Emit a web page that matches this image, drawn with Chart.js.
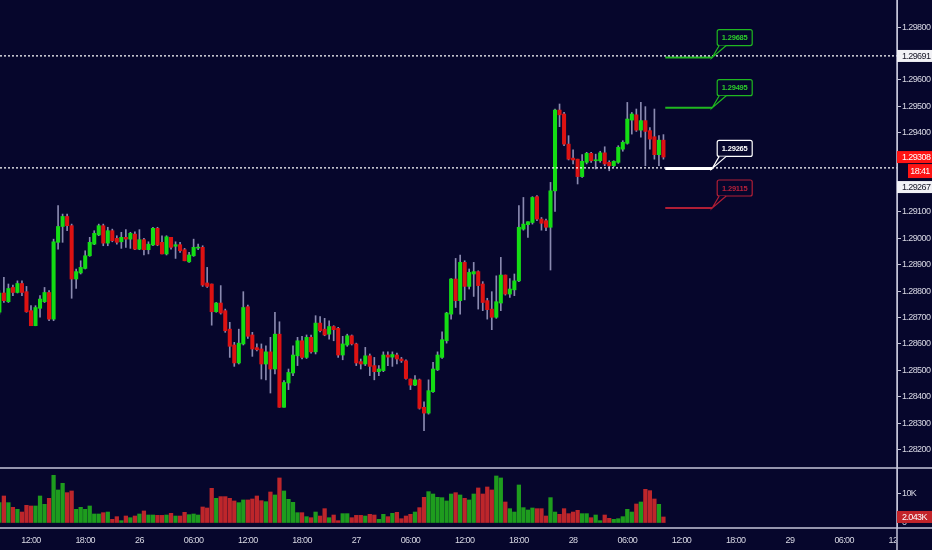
<!DOCTYPE html>
<html>
<head>
<meta charset="utf-8">
<title>GBPUSD 30m</title>
<script src="https://cdn.jsdelivr.net/npm/chart.js@4.4.1/dist/chart.umd.min.js"></script>
<style>
  html, body { margin: 0; padding: 0; background: #06062c; overflow: hidden; }
  canvas { display: block; }
</style>
</head>
<body>
<canvas id="chart" width="932" height="550"></canvas>
<script>
// 30 minute candles, slot 0 = 25th 12:00
const firstSlot = -7;

const opens = [1.28720,1.28793,1.28760,1.28814,1.28795,1.28829,1.28798,
  1.28726,1.28669,1.28735,1.28760,1.28795,1.28694,1.28985,1.29045,1.29083,1.29048,
  1.28846,1.28869,1.28886,1.28934,1.28978,1.29013,1.29048,1.28982,1.29029,1.29000,
  1.28987,1.29004,1.28997,1.29016,1.28959,1.28995,1.28957,1.28975,1.29038,1.28985,
  1.28941,1.29004,1.28970,1.28976,1.28957,1.28911,1.28934,1.28963,1.28966,1.28831,
  1.28827,1.28722,1.28755,1.28726,1.28656,1.28596,1.28528,1.28600,1.28741,1.28634,
  1.28586,1.28581,1.28524,1.28570,1.28505,1.28637,1.28360,1.28452,1.28490,1.28555,
  1.28612,1.28549,1.28625,1.28570,1.28679,1.28656,1.28637,1.28666,1.28659,1.28558,
  1.28596,1.28631,1.28600,1.28533,1.28524,1.28555,1.28518,1.28495,1.28499,1.28558,
  1.28550,1.28558,1.28543,1.28536,1.28467,1.28444,1.28464,1.28360,1.28338,1.28419,
  1.28502,1.28549,1.28612,1.28713,1.28846,1.28764,1.28909,1.28818,1.28865,1.28874,
  1.28827,1.28764,1.28732,1.28701,1.28755,1.28861,1.28789,1.28805,1.28839,1.29035,
  1.29052,1.29060,1.29158,1.29073,1.29067,1.29042,1.29180,1.29486,1.29471,1.29357,
  1.29304,1.29300,1.29234,1.29288,1.29322,1.29294,1.29294,1.29324,1.29288,1.29275,
  1.29288,1.29338,1.29360,1.29448,1.29468,1.29410,1.29446,1.29408,1.29385,1.29317,
  1.29372];

const highs = [1.28802,1.28852,1.28827,1.28823,1.28839,1.28839,1.28818,
  1.28745,1.28745,1.28783,1.28814,1.28802,1.28997,1.29124,1.29092,1.29092,1.29054,
  1.28884,1.28915,1.28953,1.29004,1.29029,1.29054,1.29054,1.29042,1.29035,1.29010,
  1.29023,1.29033,1.29023,1.29025,1.29033,1.29000,1.28987,1.29042,1.29042,1.29010,
  1.29010,1.29004,1.28987,1.28985,1.28962,1.28947,1.28997,1.28978,1.28972,1.28890,
  1.28827,1.28757,1.28821,1.28732,1.28682,1.28606,1.28656,1.28798,1.28747,1.28644,
  1.28600,1.28600,1.28593,1.28625,1.28720,1.28684,1.28461,1.28505,1.28593,1.28625,
  1.28629,1.28634,1.28634,1.28707,1.28704,1.28697,1.28688,1.28669,1.28663,1.28629,
  1.28637,1.28634,1.28603,1.28543,1.28587,1.28562,1.28549,1.28518,1.28570,1.28570,
  1.28570,1.28565,1.28549,1.28540,1.28467,1.28480,1.28467,1.28381,1.28464,1.28530,
  1.28570,1.28646,1.28720,1.28848,1.28924,1.28937,1.28915,1.28884,1.28909,1.28877,
  1.28836,1.28773,1.28798,1.28858,1.28928,1.28861,1.28848,1.28865,1.29124,1.29155,
  1.29063,1.29158,1.29162,1.29079,1.29073,1.29212,1.29490,1.29509,1.29477,1.29389,
  1.29335,1.29300,1.29317,1.29326,1.29326,1.29319,1.29330,1.29347,1.29294,1.29294,
  1.29351,1.29370,1.29515,1.29477,1.29490,1.29515,1.29499,1.29420,1.29490,1.29389,
  1.29393];

const lows = [1.28713,1.28757,1.28757,1.28783,1.28793,1.28783,1.28720,
  1.28669,1.28669,1.28701,1.28757,1.28688,1.28688,1.28959,1.28985,1.29029,1.28773,
  1.28810,1.28865,1.28884,1.28932,1.28976,1.29010,1.28972,1.28972,1.28987,1.28978,
  1.28962,1.28966,1.28962,1.28957,1.28957,1.28937,1.28941,1.28972,1.28972,1.28941,
  1.28937,1.28959,1.28924,1.28947,1.28915,1.28909,1.28932,1.28957,1.28818,1.28814,
  1.28671,1.28720,1.28713,1.28644,1.28549,1.28515,1.28524,1.28596,1.28621,1.28553,
  1.28574,1.28467,1.28464,1.28414,1.28486,1.28360,1.28360,1.28427,1.28480,1.28518,
  1.28543,1.28545,1.28565,1.28562,1.28646,1.28631,1.28618,1.28612,1.28549,1.28540,
  1.28591,1.28596,1.28518,1.28505,1.28518,1.28480,1.28464,1.28480,1.28495,1.28518,
  1.28515,1.28524,1.28530,1.28467,1.28427,1.28442,1.28353,1.28271,1.28334,1.28416,
  1.28499,1.28545,1.28603,1.28694,1.28738,1.28713,1.28767,1.28808,1.28780,1.28732,
  1.28726,1.28694,1.28654,1.28697,1.28726,1.28785,1.28776,1.28783,1.28836,1.29031,
  1.29004,1.29054,1.29067,1.29031,1.29029,1.28880,1.29102,1.29423,1.29351,1.29297,
  1.29282,1.29206,1.29231,1.29282,1.29288,1.29263,1.29288,1.29275,1.29256,1.29272,
  1.29284,1.29330,1.29357,1.29395,1.29405,1.29383,1.29275,1.29338,1.29300,1.29275,
  1.29300];

const closes = [1.28793,1.28764,1.28810,1.28795,1.28829,1.28795,1.28722,
  1.28669,1.28738,1.28770,1.28795,1.28694,1.28987,1.29045,1.29083,1.29048,1.28846,
  1.28874,1.28890,1.28934,1.28985,1.29019,1.29048,1.28982,1.29029,1.28991,1.28985,
  1.29004,1.28997,1.29019,1.28959,1.28995,1.28957,1.28978,1.29038,1.28975,1.28941,
  1.29006,1.28966,1.28976,1.28953,1.28915,1.28937,1.28966,1.28966,1.28823,1.28818,
  1.28722,1.28755,1.28717,1.28650,1.28591,1.28528,1.28603,1.28738,1.28629,1.28581,
  1.28578,1.28524,1.28570,1.28505,1.28637,1.28360,1.28454,1.28492,1.28558,1.28612,
  1.28549,1.28625,1.28570,1.28679,1.28650,1.28634,1.28666,1.28654,1.28558,1.28600,
  1.28631,1.28600,1.28528,1.28524,1.28555,1.28515,1.28495,1.28505,1.28558,1.28550,
  1.28560,1.28543,1.28536,1.28469,1.28444,1.28464,1.28356,1.28338,1.28423,1.28505,
  1.28558,1.28616,1.28717,1.28846,1.28764,1.28909,1.28818,1.28871,1.28874,1.28821,
  1.28757,1.28730,1.28701,1.28760,1.28861,1.28789,1.28808,1.28839,1.29042,1.29054,
  1.29063,1.29155,1.29073,1.29057,1.29042,1.29180,1.29486,1.29468,1.29357,1.29300,
  1.29297,1.29234,1.29292,1.29322,1.29294,1.29297,1.29324,1.29282,1.29275,1.29292,
  1.29345,1.29364,1.29452,1.29471,1.29410,1.29446,1.29405,1.29376,1.29317,1.29372,
  1.29308];

const volumes = [6900,9160,6900,5310,4640,3720,5990,
  5770,5770,9160,6330,8370,16170,11200,13460,10290,10860,
  4640,5310,4640,5770,3050,3050,3500,3720,1240,2150,
  790,2370,1800,2370,3050,4080,2710,2710,2590,2590,
  2710,3280,2370,2370,3620,2830,3050,2710,5430,5090,
  11760,8370,8940,8940,8370,7470,6900,7810,7810,8140,
  9160,7570,7230,10510,9500,15270,10860,8030,7010,3500,
  3500,2150,1800,3720,2370,4860,1800,2710,790,3170,
  3170,1800,2590,2590,2370,2940,2710,1240,2940,2150,
  3280,3620,1460,2370,2940,3720,5210,8700,10630,9830,
  8700,8590,7470,9830,10290,9500,8370,7810,9830,11880,
  9830,12210,11200,15940,15270,7120,4860,3720,12890,5210,
  4410,5090,4860,4860,2370,8600,3720,2940,4860,3170,
  3720,4300,3170,3170,1800,2710,790,2710,1580,1240,
  1460,2150,4640,3720,6440,7120,11420,10970,8140,6330,
  2043];

// one label every 12 slots (6 hours)
const timeLabels = ['12:00','18:00','26','06:00','12:00','18:00','27','06:00','12:00',
  '18:00','28','06:00','12:00','18:00','29','06:00','12:00'];
const priceTicks = [1.282,1.283,1.284,1.285,1.286,1.287,1.288,1.289,1.290,1.291,1.294,1.295,1.296,1.298];
const volumeTicks = [0, 10000];

const levelValues = [1.29685, 1.29495, 1.29265, 1.29115];
const priceLines = [1.29691, 1.29267];
const lastPrice = 1.29308;
const lastVolume = '2.043K';
const countdown = '18:41';

// styles
const bg = '#06062c';
const upColor = '#14dc14', downColor = '#dc1212';
const upVol = '#1e9c1e', downVol = '#bd262b';
const wickColor = '#8a8ab0';
const textColor = '#d8d8e4';
const frameColor = '#c4c4d8';
const levelColors = ['#20b820', '#20b820', '#ffffff', '#b01e36'];
const levelText = ['#2ccc2c', '#2ccc2c', '#ffffff', '#b6213b'];
const fontFamily = "'Liberation Sans', Arial, sans-serif";

const xMin = -6.86, xMax = 191.7;
const levelFrom = 140.4, levelTo = 150.8, boxAt = 151.9;

const slots = opens.map((_, k) => firstSlot + k);
const isUp = opens.map((o, k) => closes[k] >= o);

Chart.defaults.font.family = fontFamily;

const overlay = {
  id: 'overlay',
  beforeDraw(chart) {
    // narrow the text a little, like the original condensed face
    chart.ctx.letterSpacing = '-0.6px';
  },
  afterDraw(chart) {
    const { ctx } = chart;
    const { x, y, yv } = chart.scales;
    const W = chart.width, H = chart.height;
    const axisX = y.left;
    ctx.save();

    // panel frame
    ctx.strokeStyle = frameColor;
    ctx.lineWidth = 1.5;
    ctx.beginPath();
    ctx.moveTo(0, y.bottom); ctx.lineTo(W, y.bottom);
    ctx.moveTo(0, yv.bottom); ctx.lineTo(W, yv.bottom);
    ctx.moveTo(axisX, 0); ctx.lineTo(axisX, H);
    ctx.stroke();

    // last time label, cut by the price axis
    ctx.save();
    ctx.beginPath();
    ctx.rect(0, yv.bottom + 1, axisX - 1, H);
    ctx.clip();
    ctx.fillStyle = textColor;
    ctx.font = '9px ' + fontFamily;
    ctx.textAlign = 'center';
    ctx.textBaseline = 'middle';
    ctx.fillText(timeLabels[16], x.getPixelForValue(192), yv.bottom + 12.5);
    ctx.restore();

    // level callouts
    ctx.save();
    ctx.letterSpacing = '-0.2px';
    ctx.font = 'bold 7.5px ' + fontFamily;
    levelValues.forEach((v, k) => {
      const ly = y.getPixelForValue(v);
      const ex = x.getPixelForValue(levelTo);
      const bx = x.getPixelForValue(boxAt);
      const bw = 35, bh = 16, by = ly - 12 - bh;
      ctx.fillStyle = bg;
      ctx.strokeStyle = levelColors[k];
      ctx.lineWidth = 1.2;
      ctx.beginPath();
      ctx.roundRect(bx, by, bw, bh, 2);
      ctx.fill();
      ctx.stroke();
      ctx.beginPath();
      ctx.moveTo(bx + 2, by + bh);
      ctx.lineTo(ex, ly);
      ctx.lineTo(bx + 9, by + bh);
      ctx.closePath();
      ctx.fill();
      ctx.beginPath();
      ctx.moveTo(bx + 2, by + bh);
      ctx.lineTo(ex, ly);
      ctx.lineTo(bx + 9, by + bh);
      ctx.stroke();
      ctx.fillStyle = levelText[k];
      ctx.textAlign = 'center';
      ctx.textBaseline = 'middle';
      ctx.fillText(v.toFixed(5), bx + bw / 2, by + bh / 2 + 0.5);
    });
    ctx.restore();

    // axis tags
    ctx.font = '9px ' + fontFamily;
    ctx.textBaseline = 'middle';
    function tag(cy, text, fill, color, left, h) {
      ctx.fillStyle = fill;
      ctx.fillRect(left, cy - h / 2, W - left, h);
      ctx.fillStyle = color;
      ctx.textAlign = 'left';
      ctx.fillText(text, axisX + 5, cy + 0.5);
    }
    tag(y.getPixelForValue(priceLines[0]), priceLines[0].toFixed(5), '#f2f2f6', '#151525', axisX, 12);
    const cy = y.getPixelForValue(lastPrice);
    tag(cy, lastPrice.toFixed(5), '#ff1414', '#ffffff', axisX, 12);
    ctx.fillStyle = '#ff1414';
    ctx.fillRect(axisX + 11, cy + 7, W - axisX - 11, 14);
    ctx.fillStyle = '#ffffff';
    ctx.textAlign = 'center';
    ctx.fillText(countdown, axisX + 11 + (W - axisX - 11) / 2, cy + 14.5);
    tag(cy + 30, priceLines[1].toFixed(5), '#f2f2f6', '#151525', axisX, 12);
    tag(yv.getPixelForValue(2043), lastVolume, '#c3242a', '#ffffff', axisX, 12);

    ctx.restore();
  }
};

new Chart(document.getElementById('chart'), {
  type: 'bar',
  data: {
    datasets: [
      ...priceLines.map(v => ({
        type: 'line',
        data: [{ x: xMin, y: v }, { x: xMax, y: v }],
        borderColor: '#ffffff', borderWidth: 1.2, borderDash: [2, 2],
        pointRadius: 0, yAxisID: 'y', order: 0
      })),
      ...levelValues.map((v, k) => ({
        type: 'line',
        data: [{ x: levelFrom, y: v }, { x: levelTo, y: v }],
        borderColor: levelColors[k], borderWidth: k === 2 ? 3 : 2,
        pointRadius: 0, yAxisID: 'y', order: 0
      })),
      {
        data: slots.map((s, k) => ({ x: s, y: [opens[k], closes[k]] })),
        backgroundColor: isUp.map(u => u ? upColor : downColor),
        barThickness: 3.4, minBarLength: 1, grouped: false,
        yAxisID: 'y', order: 1
      },
      {
        data: slots.map((s, k) => ({ x: s, y: [lows[k], highs[k]] })),
        backgroundColor: wickColor,
        barThickness: 1, grouped: false,
        yAxisID: 'y', order: 2
      },
      {
        data: slots.map((s, k) => ({ x: s, y: volumes[k] })),
        backgroundColor: isUp.map(u => u ? upVol : downVol),
        barThickness: 3.6, grouped: false,
        yAxisID: 'yv', order: 3
      }
    ]
  },
  options: {
    responsive: false,
    animation: false,
    events: [],
    layout: { padding: 0 },
    plugins: { legend: { display: false }, tooltip: { enabled: false } },
    scales: {
      x: {
        type: 'linear', min: xMin, max: xMax, offset: false,
        grid: { display: false, drawTicks: false },
        border: { display: false },
        ticks: {
          color: textColor, font: { size: 9 }, padding: 7,
          maxRotation: 0, autoSkip: false,
          callback: (v, i) => timeLabels[i]
        },
        afterBuildTicks: s => {
          s.ticks = timeLabels.map((_, i) => ({ value: i * 12 })).filter(t => t.value <= s.max);
        },
        afterFit: s => { s.height = 22; s.paddingLeft = 0; s.paddingRight = 0; }
      },
      y: {
        type: 'linear', position: 'right', stack: 'panes', stackWeight: 468,
        min: 1.28130, max: 1.29903,
        grid: { drawOnChartArea: false, drawTicks: true, tickLength: 4, color: frameColor },
        border: { display: true, color: frameColor },
        ticks: { color: textColor, font: { size: 9 }, padding: 1, callback: v => v.toFixed(5) },
        afterBuildTicks: s => { s.ticks = priceTicks.map(v => ({ value: v })); },
        afterFit: s => { s.width = 35; s.paddingTop = 0; s.paddingBottom = 0; }
      },
      yv: {
        type: 'linear', position: 'right', stack: 'panes', stackWeight: 60,
        min: -1695, max: 18644,
        grid: { drawOnChartArea: false, drawTicks: true, tickLength: 4, color: frameColor },
        border: { display: true, color: frameColor },
        ticks: { color: textColor, font: { size: 9 }, padding: 1,
          callback: v => v === 0 ? '0' : (v / 1000) + 'K' },
        afterBuildTicks: s => { s.ticks = volumeTicks.map(v => ({ value: v })); },
        afterFit: s => { s.width = 35; s.paddingTop = 0; s.paddingBottom = 0; }
      }
    }
  },
  plugins: [overlay]
});
</script>
</body>
</html>
